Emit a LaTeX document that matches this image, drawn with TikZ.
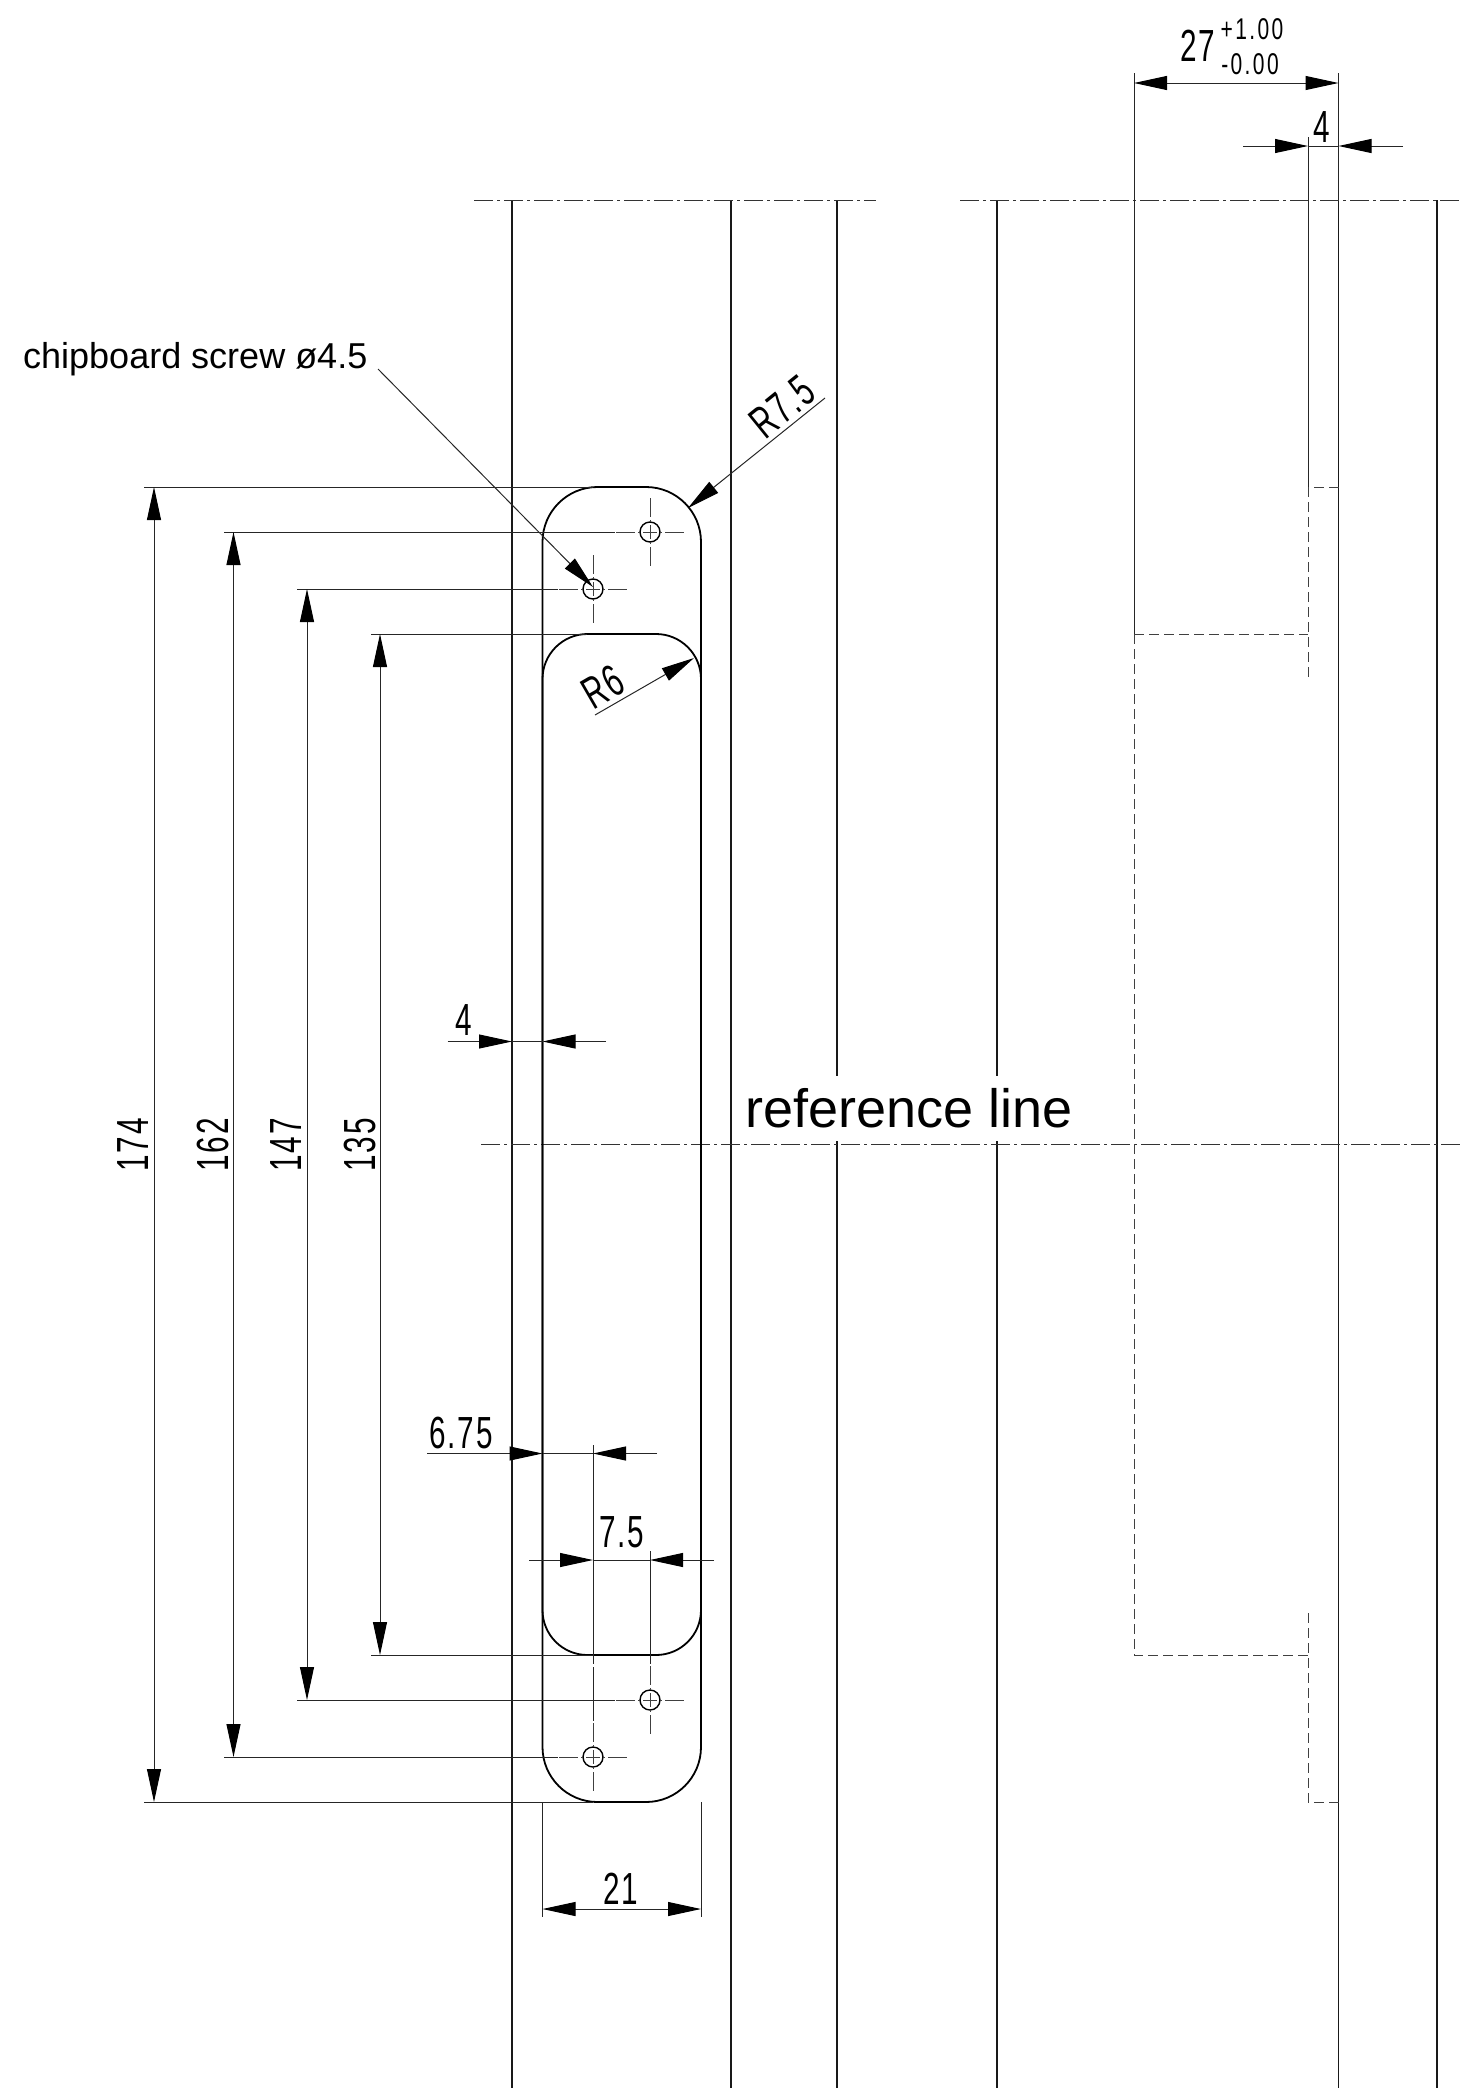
\documentclass[tikz,border=0pt]{standalone}
\usepackage{fontspec}
\setmainfont{Liberation Sans}
\newfontfamily\dimfont[FakeStretch=0.66,LetterSpace=4]{Liberation Sans}
\newfontfamily\tolfont[FakeStretch=0.7,LetterSpace=8]{Liberation Sans}
\usetikzlibrary{arrows.meta}
\tikzset{
  wall/.style={line width=1.9pt,black!90},
  part/.style={line width=1.8pt,black},
  thinline/.style={line width=1pt,black!85},
  axisline/.style={line width=1pt,black!80,dash pattern=on 19pt off 4pt on 3pt off 4pt},
  hiddenline/.style={line width=1pt,black!75,dash pattern=on 10pt off 5pt},
  holemark/.style={line width=0.9pt,black!75,dash pattern=on 19pt off 3pt on 2pt off 3pt on 14pt off 3pt on 2pt off 3pt on 19pt},
  dimtip/.tip={Triangle[length=33pt,width=14pt,color=black]},
  dimboth/.style={thinline,dimtip-dimtip},
  dimend/.style={thinline,-dimtip},
  dimlabel/.style={inner sep=0pt,font=\dimfont\fontsize{45}{45}\selectfont},
  tollabel/.style={inner sep=0pt,font=\tolfont\fontsize{30}{30}\selectfont}
}
\begin{document}
\begin{tikzpicture}[x=1pt,y=-1pt]
      \useasboundingbox (0,0) rectangle (1461,2088);
      % walls
      \foreach \wallx in {512,731,837,997,1338.5,1437}
        \draw[wall] (\wallx,200) -- (\wallx,2088);
      % reference note, its box cuts the walls
      \node[inner sep=0pt,fill=white,minimum height=65pt,font=\fontsize{54}{54}\selectfont] at (909,1108.5) (refline) {reference line};
      \draw[axisline] (474,200) -- (876,200);
      \draw[axisline] (960,200) -- (1461,200);
      \draw[axisline] (481,1144.5) -- (1461,1144.5);
      % plate and recess
      \draw[part] (542.5,487) [rounded corners=55pt] rectangle (701,1802);
      \draw[part] (542.5,634) [rounded corners=45pt] rectangle (701,1655);
      % screw holes
      \foreach \hx/\hy in {650/532,593/589,650/1700,593/1757} {
        \draw[part,line width=1.4pt] (\hx,\hy) circle (10);
        \draw[holemark] (\hx-34,\hy) -- (\hx+34,\hy);
        \draw[holemark] (\hx,\hy-34) -- (\hx,\hy+34);
      }
      % extension lines
      \draw[thinline] (144,487) -- (593,487);
      \draw[thinline] (224,532) -- (615,532);
      \draw[thinline] (297,589) -- (558,589);
      \draw[thinline] (371,634) -- (587,634);
      \draw[thinline] (371,1655) -- (593,1655);
      \draw[thinline] (297,1700) -- (615,1700);
      \draw[thinline] (224,1757) -- (558,1757);
      \draw[thinline] (144,1802) -- (593,1802);
      \draw[thinline] (593,1445) -- (593,1664);
      \draw[thinline] (593,1667) -- (593,1721);
      \draw[thinline] (650,1551) -- (650,1664);
      \draw[thinline] (542.5,1802) -- (542.5,1917);
      \draw[thinline] (701,1802) -- (701,1917);
      \draw[thinline] (1134,73) -- (1134,634);
      \draw[thinline] (1308,137) -- (1308,487);
      \draw[thinline] (1338.5,73) -- (1338.5,200);
      % hidden edges
      \draw[hiddenline] (1134,634) -- (1134,1655) -- (1308,1655);
      \draw[hiddenline] (1134,634) -- (1308,634);
      \draw[hiddenline] (1308,487) -- (1308,677);
      \draw[hiddenline] (1308,1613) -- (1308,1802);
      \draw[hiddenline] (1338.5,487) -- (1308,487);
      \draw[hiddenline] (1338.5,1802) -- (1308,1802);
      % height dimensions
      \draw[dimboth] (154,487) -- (154,1802);
      \draw[dimboth] (233.5,532) -- (233.5,1757);
      \draw[dimboth] (307,589) -- (307,1700);
      \draw[dimboth] (380,634) -- (380,1655);
      \node[dimlabel,rotate=90] at (133,1145) (height174) {174};
      \node[dimlabel,rotate=90] at (213,1145) (height162) {162};
      \node[dimlabel,rotate=90] at (286.5,1145) (height147) {147};
      \node[dimlabel,rotate=90] at (360,1145) (height135) {135};
      % width dimensions
      \draw[dimboth] (542.5,1909) -- (701,1909);
      \node[dimlabel] at (621,1889) (width21) {21};
      \draw[dimend] (447.5,1041.5) -- (512,1041.5);
      \draw[dimend] (606,1041.5) -- (542.5,1041.5);
      \draw[thinline] (512,1041.5) -- (542.5,1041.5);
      \node[dimlabel] at (463.5,1020) (wall4) {4};
      \draw[dimend] (427,1453.5) -- (542.5,1453.5);
      \draw[dimend] (657,1453.5) -- (593,1453.5);
      \draw[thinline] (542.5,1453.5) -- (593,1453.5);
      \node[dimlabel] at (461,1433) (offset675) {6.75};
      \draw[dimend] (529,1560) -- (593,1560);
      \draw[dimend] (714,1560) -- (650,1560);
      \draw[thinline] (593,1560) -- (650,1560);
      \node[dimlabel] at (622,1532) (pitch75) {7.5};
      % side view dimensions
      \draw[dimboth] (1134,83) -- (1338.5,83);
      \node[dimlabel] at (1198,46) (depth27) {27};
      \node[tollabel] at (1252,29) (tolup) {+1.00};
      \node[tollabel] at (1250,64) (toldown) {-0.00};
      \draw[dimend] (1243,146) -- (1308,146);
      \draw[dimend] (1403,146) -- (1338.5,146);
      \draw[thinline] (1308,146) -- (1338.5,146);
      \node[dimlabel] at (1322,127) (side4) {4};
      % radius leaders
      \coordinate (r75from) at (825,398);
      \coordinate (r75to) at (688,508);
      \draw[dimend] (r75from) -- (r75to);
      \node[dimlabel,rotate=39] at (782,407) (radius75) {R7.5};
      \coordinate (r6from) at (595,715);
      \coordinate (r6to) at (694,658);
      \draw[dimend] (r6from) -- (r6to);
      \node[dimlabel,rotate=30] at (603,687) (radius6) {R6};
      % screw note
      \node[inner sep=0pt,anchor=base west,font=\fontsize{36}{36}\selectfont] at (23,368) (screw) {chipboard screw ø4.5};
      \coordinate (screwfrom) at (378,369);
      \coordinate (screwto) at (593,587);
      \draw[dimend] (screwfrom) -- (screwto);
\end{tikzpicture}
\end{document}
